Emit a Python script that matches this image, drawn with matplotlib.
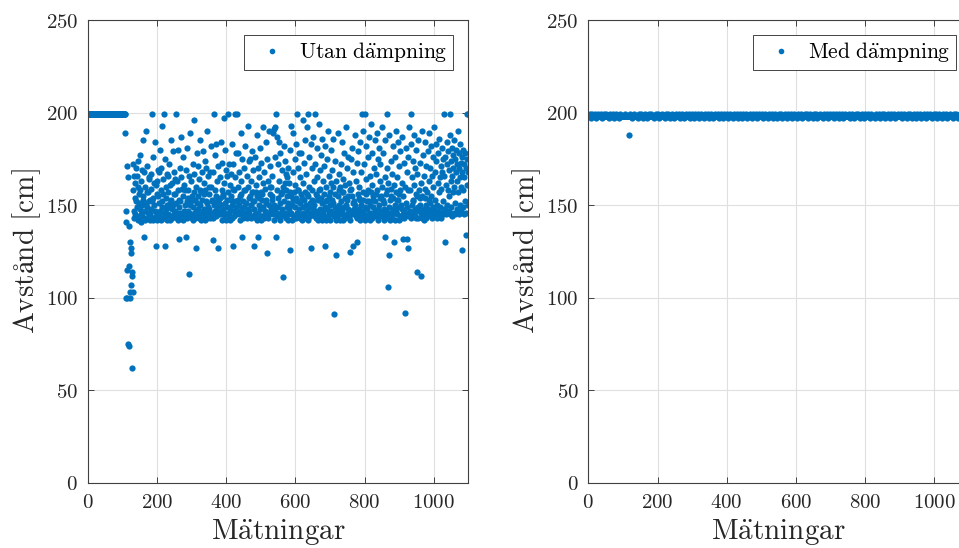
import numpy as np
import matplotlib
matplotlib.use('Agg')
import matplotlib.pyplot as plt
from matplotlib.ticker import FuncFormatter, FixedLocator

plt.rcParams['mathtext.fontset'] = 'cm'
plt.rcParams['font.family'] = ['DejaVu Serif']

BLUE = '#0072BD'

# ---------------- data: "Utan dämpning" (without damping) ----------------
utan_start = [
    199, 199, 199, 199, 199, 199, 199, 199, 199, 199, 199, 199, 199, 199, 199, 199, 199, 199,
    199, 199, 199, 199, 199, 199, 199, 199, 199, 199, 199, 199, 199, 199, 199, 199, 199, 199,
    199, 199, 199, 199, 199, 199, 199, 199, 199, 199, 199, 199, 199, 199, 199, 199, 199, 199,
    199, 199, 199, 199, 199, 199, 199, 199, 199, 199, 199, 199, 199, 199, 199, 199, 199, 199,
    199, 199, 199, 199, 199, 199, 199, 199, 199, 199, 199, 199, 199, 199, 199, 199, 199, 199,
    199, 199, 199, 199, 199, 199, 199, 199, 199, 199, 199, 199, 199, 199, 199, 199, 199, 199,
]
utan_transition = [189, 147, 100, 141, 171, 100, 115, 165, 75, 139, 74,
                   117, 103, 100, 130, 127, 107, 124, 112, 62, 114, 103]
utan_main = [
    172, 158, 147, 166, 143, 162, 154, 145, 170, 152, 144, 166, 149, 160, 142, 174, 151, 156, 143, 177,
    148, 158, 145, 163, 141, 150, 169, 144, 185, 153, 155, 133, 143, 168, 147, 160, 142, 151, 190, 157,
    149, 171, 143, 157, 146, 164, 152, 165, 142, 153,
    145, 167, 148, 159, 143, 199, 152, 176, 142, 154, 150, 143, 162, 147, 184, 161, 128, 144, 156, 163,
    142, 169, 146, 155, 144, 168, 151, 143, 180, 147, 158, 142, 170, 152, 193, 149, 164, 143, 156, 199,
    146, 128, 175, 143, 160, 148, 154, 167, 150, 142,
    166, 145, 157, 143, 172, 149, 142, 161, 151, 153, 144, 185, 148, 162, 143, 150, 179, 145, 168, 156,
    156, 147, 164, 144, 199, 151, 143, 163, 146, 180, 142, 158, 149, 153, 132, 170, 146, 152, 187, 143,
    165, 145, 159, 142, 176, 155, 144, 161, 147, 150,
    146, 158, 133, 169, 145, 152, 181, 143, 158, 147, 154, 113, 166, 146, 150, 144, 189, 152, 163, 143,
    155, 145, 172, 142, 149, 167, 157, 196, 146, 153, 143, 160, 127, 147, 178, 144, 151, 155, 171, 148,
    145, 164, 143, 185, 150, 158, 157, 142, 168, 144,
    153, 147, 179, 143, 162, 156, 148, 174, 142, 158, 146, 170, 152, 151, 143, 190, 149, 166, 145, 160,
    156, 148, 168, 143, 160, 146, 182, 153, 152, 145, 143, 131, 168, 150, 199, 145, 158, 177, 147, 155,
    144, 183, 149, 163, 152, 146, 127, 171, 145, 151,
    147, 165, 154, 184, 150, 145, 158, 142, 173, 148, 156, 155, 197, 146, 162, 144, 151, 180, 142, 169,
    145, 149, 166, 153, 199, 157, 146, 172, 144, 161, 148, 142, 167, 155, 153, 183, 143, 150, 159, 128,
    172, 144, 158, 147, 199, 152, 165, 149, 178, 145,
    199, 146, 160, 153, 178, 150, 145, 168, 142, 155, 147, 189, 156, 163, 148, 133, 175, 143, 152, 146,
    158, 170, 149, 158, 144, 182, 146, 151, 143, 166, 145, 193, 148, 160, 154, 174, 147, 155, 144, 175,
    150, 143, 163, 157, 179, 144, 157, 152, 169, 148,
    128, 152, 145, 176, 143, 161, 157, 188, 142, 155, 146, 133, 170, 154, 150, 165, 143, 181, 148, 157,
    142, 173, 156, 153, 144, 192, 149, 162, 143, 168, 145, 159, 147, 184, 153, 151, 144, 124, 175, 146,
    163, 143, 150, 190, 145, 156, 160, 171, 148, 160,
    147, 166, 153, 155, 145, 189, 150, 191, 142, 176, 148, 192, 133, 199, 146, 187, 158, 144, 172, 149,
    154, 163, 145, 184, 151, 142, 178, 146, 156, 144, 169, 148, 157, 160, 111, 182, 145, 152, 162, 174,
    146, 158, 143, 167, 149, 165, 155, 151, 142, 170,
    145, 162, 148, 180, 126, 157, 155, 146, 193, 150, 142, 168, 153, 189, 144, 157, 143, 175, 149, 161,
    154, 183, 143, 152, 199, 146, 170, 158, 158, 148, 144, 178, 151, 143, 165, 156, 178, 142, 154, 145,
    196, 149, 162, 153, 173, 146, 157, 144, 185, 150,
    143, 167, 147, 192, 156, 155, 199, 142, 176, 149, 160, 144, 151, 183, 127, 146, 170, 153, 158, 148,
    152, 187, 145, 163, 150, 199, 144, 172, 147, 156, 143, 181, 155, 165, 145, 153, 142, 194, 158, 169,
    148, 159, 143, 177, 154, 151, 142, 186, 147, 163,
    145, 171, 143, 156, 149, 128, 182, 152, 160, 142, 175, 148, 153, 144, 190, 146, 166, 155, 157, 150,
    142, 180, 147, 162, 145, 169, 153, 151, 160, 186, 146, 91, 144, 174, 149, 156, 142, 123, 163, 147,
    143, 155, 145, 189, 150, 158, 167, 142, 160, 148,
    172, 145, 152, 157, 184, 147, 164, 142, 157, 149, 144, 178, 154, 161, 143, 192, 150, 145, 170, 153,
    155, 148, 176, 144, 162, 146, 158, 125, 142, 175, 147, 159, 145, 181, 155, 151, 128, 168, 146, 148,
    152, 188, 150, 144, 163, 147, 173, 143, 130, 156,
    145, 179, 148, 160, 154, 153, 142, 184, 146, 168, 150, 144, 199, 147, 157, 153, 190, 145, 172, 149,
    199, 142, 164, 156, 182, 144, 152, 148, 176, 143, 158, 145, 187, 152, 166, 142, 150, 157, 194, 146,
    161, 143, 178, 149, 155, 153, 170, 145, 185, 147,
    152, 144, 167, 156, 189, 146, 158, 142, 175, 148, 145, 181, 150, 163, 154, 172, 147, 155, 144, 192,
    146, 160, 153, 178, 148, 151, 142, 185, 133, 165, 147, 156, 144, 170, 158, 199, 143, 106, 162, 149,
    123, 188, 146, 153, 142, 174, 155, 159, 143, 167,
    148, 182, 154, 161, 146, 130, 150, 176, 142, 157, 147, 190, 145, 165, 153, 153, 149, 184, 142, 171,
    156, 158, 144, 179, 150, 143, 162, 148, 187, 145, 155, 132, 143, 173, 147, 160, 144, 92, 151, 181,
    145, 168, 132, 149, 158, 127, 176, 146, 192, 144,
    158, 147, 183, 143, 199, 150, 165, 145, 174, 152, 153, 188, 146, 161, 144, 170, 148, 156, 143, 180,
    155, 114, 167, 149, 143, 185, 147, 158, 154, 173, 150, 112, 162, 146, 190, 143, 155, 148, 177, 145,
    142, 166, 147, 184, 154, 159, 150, 143, 171, 146,
    157, 145, 179, 148, 163, 153, 189, 151, 146, 170, 144, 182, 155, 147, 166, 143, 176, 149, 160, 145,
    192, 148, 168, 144, 153, 174, 146, 183, 150, 143, 162, 147, 178, 145, 157, 186, 144, 165, 149, 171,
    143, 159, 181, 146, 168, 152, 145, 175, 148, 199,
    166, 148, 130, 176, 145, 161, 184, 150, 172, 146, 158, 179, 147, 169, 155, 188, 199, 145, 174, 163,
    149, 181, 166, 144, 177, 157, 170, 146, 185, 160, 151, 175, 145, 168, 180, 148, 163, 172, 146, 190,
    157, 170, 145, 178, 165, 150, 183, 147, 173, 160,
    168, 176, 126, 149, 180, 158, 172, 145, 165, 178, 152, 170, 146, 134, 175, 161, 199, 150, 168, 199,
]
utan = utan_start + utan_transition + utan_main

# ---------------- data: "Med dämpning" (with damping) ----------------
med = [
    198, 198, 198, 199, 198, 198, 198, 198, 197, 198, 198, 199, 198, 198, 198, 198, 198, 198, 199, 198, 198, 198, 197, 198, 198,
    198, 198, 199, 198, 198, 198, 198, 198, 198, 198, 199, 198, 198, 198, 198, 197, 198, 198, 198, 199, 198, 198, 198, 198, 198,
    198, 199, 198, 198, 198, 198, 198, 198, 198, 197, 198, 198, 199, 198, 198, 198, 198, 198, 198, 198, 198, 199, 198, 198, 197,
    198, 198, 198, 198, 198, 199, 198, 198, 198, 198, 198, 198, 198, 197, 198, 198, 198, 199, 198, 198, 198, 198, 198, 198, 198,
    198, 198, 198, 198, 199, 198, 198, 198, 198, 198, 198, 198, 198, 198, 198, 198, 198, 188, 198, 198, 199, 198, 198, 198, 198,
    197, 198, 198, 198, 198, 198, 199, 198, 198, 198, 198, 198, 198, 198, 198, 198, 198, 197, 198, 198, 199, 198, 198, 198, 198,
    198, 198, 199, 198, 198, 198, 198, 197, 198, 198, 198, 198, 198, 199, 198, 198, 198, 198, 198, 198, 197, 198, 198, 198, 199,
    198, 198, 198, 198, 198, 198, 199, 198, 198, 198, 198, 198, 198, 198, 197, 198, 198, 198, 198, 199, 198, 198, 198, 198, 198,
    199, 198, 198, 198, 197, 198, 198, 198, 198, 198, 198, 199, 198, 198, 198, 198, 198, 198, 198, 198, 197, 198, 198, 199, 198,
    198, 198, 198, 198, 199, 198, 198, 198, 198, 198, 197, 198, 198, 198, 198, 198, 199, 198, 198, 198, 198, 198, 198, 197, 198,
    198, 198, 199, 198, 198, 198, 198, 198, 198, 198, 198, 199, 198, 198, 197, 198, 198, 198, 198, 198, 198, 199, 198, 198, 198,
    198, 198, 197, 198, 198, 199, 198, 198, 198, 198, 198, 198, 198, 198, 199, 198, 198, 197, 198, 198, 198, 198, 198, 199, 198,
    198, 198, 198, 198, 198, 197, 198, 198, 199, 198, 198, 198, 198, 198, 198, 198, 199, 198, 198, 198, 197, 198, 198, 198, 198,
    199, 198, 198, 198, 198, 198, 198, 198, 197, 198, 198, 199, 198, 198, 198, 198, 198, 198, 198, 199, 198, 198, 198, 197, 198,
    198, 198, 198, 199, 198, 198, 198, 198, 198, 198, 197, 198, 198, 198, 199, 198, 198, 198, 198, 198, 198, 198, 198, 199, 198,
    198, 197, 198, 198, 198, 198, 198, 199, 198, 198, 198, 198, 198, 197, 198, 198, 198, 199, 198, 198, 198, 198, 198, 198, 198,
    199, 198, 198, 197, 198, 198, 198, 198, 198, 199, 198, 198, 198, 198, 198, 198, 197, 198, 198, 198, 199, 198, 198, 198, 198,
    198, 198, 198, 199, 198, 198, 197, 198, 198, 198, 198, 198, 199, 198, 198, 198, 198, 198, 198, 197, 198, 198, 199, 198, 198,
    198, 198, 198, 198, 198, 199, 198, 198, 198, 197, 198, 198, 198, 198, 198, 199, 198, 198, 198, 198, 198, 198, 197, 198, 198,
    199, 198, 198, 198, 198, 198, 198, 198, 199, 198, 198, 197, 198, 198, 198, 198, 198, 199, 198, 198, 198, 198, 198, 198, 198,
    198, 199, 198, 198, 197, 198, 198, 198, 198, 198, 198, 199, 198, 198, 198, 198, 198, 197, 198, 198, 198, 199, 198, 198, 198,
    198, 198, 198, 198, 199, 198, 198, 198, 197, 198, 198, 198, 198, 198, 198, 199, 198, 198, 198, 198, 197, 198, 198, 198, 199,
    198, 198, 198, 198, 198, 198, 199, 198, 198, 198, 197, 198, 198, 198, 198, 198, 198, 199, 198, 198, 198, 198, 198, 198, 197,
    198, 199, 198, 198, 198, 198, 198, 198, 198, 199, 198, 198, 197, 198, 198, 198, 198, 198, 198, 199, 198, 198, 198, 198, 198,
    198, 198, 197, 198, 198, 199, 198, 198, 198, 198, 198, 198, 198, 198, 199, 198, 198, 198, 197, 198, 198, 198, 198, 198, 199,
    198, 198, 198, 198, 198, 199, 198, 198, 197, 198, 198, 198, 198, 198, 198, 198, 199, 198, 198, 198, 198, 198, 197, 198, 198,
    199, 198, 198, 198, 198, 198, 198, 199, 198, 198, 198, 197, 198, 198, 198, 198, 198, 198, 199, 198, 198, 198, 198, 198, 198,
    198, 197, 198, 198, 199, 198, 198, 198, 198, 198, 198, 198, 198, 199, 198, 198, 197, 198, 198, 198, 198, 198, 199, 198, 198,
    198, 198, 198, 198, 198, 199, 198, 198, 198, 198, 197, 198, 198, 198, 198, 199, 198, 198, 198, 198, 198, 198, 198, 197, 198,
    199, 198, 198, 198, 198, 198, 198, 198, 199, 198, 197, 198, 198, 198, 198, 198, 198, 199, 198, 198, 198, 198, 198, 198, 198,
    198, 198, 199, 198, 198, 197, 198, 198, 198, 198, 198, 199, 198, 198, 198, 198, 198, 198, 197, 198, 198, 198, 199, 198, 198,
    198, 198, 198, 198, 199, 198, 198, 198, 197, 198, 198, 198, 198, 198, 199, 198, 198, 198, 198, 198, 198, 197, 198, 198, 198,
    199, 198, 198, 198, 198, 198, 198, 199, 198, 198, 198, 198, 197, 198, 198, 198, 198, 199, 198, 198, 198, 198, 198, 198, 198,
    198, 198, 197, 198, 198, 199, 198, 198, 198, 198, 198, 198, 198, 199, 198, 198, 198, 197, 198, 198, 198, 198, 198, 199, 198,
    198, 198, 198, 198, 199, 198, 198, 197, 198, 198, 198, 198, 198, 198, 199, 198, 198, 198, 198, 198, 197, 198, 198, 198, 198,
    199, 198, 198, 198, 198, 198, 198, 198, 199, 198, 198, 197, 198, 198, 198, 198, 198, 198, 199, 198, 198, 198, 198, 198, 198,
    198, 198, 199, 198, 198, 198, 197, 198, 198, 198, 198, 198, 199, 198, 198, 198, 198, 198, 198, 198, 197, 198, 199, 198, 198,
    198, 198, 198, 198, 199, 198, 198, 198, 198, 197, 198, 198, 198, 198, 198, 199, 198, 198, 198, 198, 198, 198, 197, 198, 198,
    199, 198, 198, 198, 198, 198, 198, 198, 199, 198, 198, 198, 197, 198, 198, 198, 198, 198, 199, 198, 198, 198, 198, 198, 198,
    198, 197, 198, 198, 199, 198, 198, 198, 198, 198, 198, 198, 199, 198, 198, 198, 197, 198, 198, 198, 198, 198, 198, 199, 198,
    198, 198, 198, 199, 198, 198, 198, 197, 198, 198, 198, 198, 198, 198, 199, 198, 198, 198, 198, 198, 197, 198, 198, 198, 198,
    199, 198, 198, 198, 198, 198, 198, 199, 198, 198, 198, 197, 198, 198, 198, 198, 198, 198, 199, 198, 198, 198, 198, 198, 198,
    198, 198, 197, 198, 198, 199, 198, 198, 198, 198, 198, 198, 198, 199, 198, 198, 198, 197, 198, 198, 198, 198, 198, 199, 198,
    198, 198, 198, 198, 199, 198, 198, 198, 197, 198, 198, 198, 198, 198, 198, 199, 198, 198, 198, 198, 198, 197, 198, 198, 198,
]

yticks = [0, 50, 100, 150, 200, 250]
xticks = [0, 200, 400, 600, 800, 1000]
xlabel = r'$\mathrm{M\ddot{a}tningar}$'
ylabel = r'$\mathrm{Avstånd\ [cm]}$'
labels = [r'$\mathrm{Utan\ d\ddot{a}mpning}$', r'$\mathrm{Med\ d\ddot{a}mpning}$']

W, H = 959, 548
fig = plt.figure(figsize=(W / 100, H / 100), dpi=100)
ax1 = fig.add_axes([87.7 / W, (H - 483) / H, 380.6 / W, 463 / H])
ax2 = fig.add_axes([588.3 / W, (H - 483) / H, 380.6 / W, 463 / H])

fmt = FuncFormatter(lambda v, p: r'$%d$' % int(round(v)))

for ax, data, lab, legx in [(ax1, utan, labels[0], 452.5), (ax2, med, labels[1], 956.0)]:
    x = np.arange(1, len(data) + 1)
    ax.plot(x, data, linestyle='none', marker='o', markersize=4.5,
            markeredgewidth=0, color=BLUE, label=lab)
    ax.set_xlim(0, 1100)
    ax.set_ylim(0, 250)
    ax.xaxis.set_major_locator(FixedLocator(xticks))
    ax.yaxis.set_major_locator(FixedLocator(yticks))
    ax.xaxis.set_major_formatter(fmt)
    ax.yaxis.set_major_formatter(fmt)
    ax.grid(True, color='#dfdfdf', linewidth=0.8)
    ax.set_axisbelow(True)
    ax.tick_params(direction='in', length=4.5, width=0.6, color='#262626',
                   labelsize=15, pad=7, top=True, right=True, labelcolor='#262626')
    for s in ax.spines.values():
        s.set_color('#404040')
        s.set_linewidth(0.8)
    ax.set_xlabel(xlabel, fontsize=21, labelpad=4, color='#262626')
    ax.set_ylabel(ylabel, fontsize=21, labelpad=2, color='#262626')
    leg = ax.legend(loc='upper right', bbox_to_anchor=(legx / W, (H - 35) / H),
                    bbox_transform=fig.transFigure, borderaxespad=0,
                    fontsize=15.5, frameon=True, fancybox=False, framealpha=1,
                    edgecolor='#262626', borderpad=0.25, handlelength=2.1,
                    handletextpad=0.2, markerscale=0.9)
    leg.get_frame().set_linewidth(0.6)

fig.savefig('out.png', dpi=100)
